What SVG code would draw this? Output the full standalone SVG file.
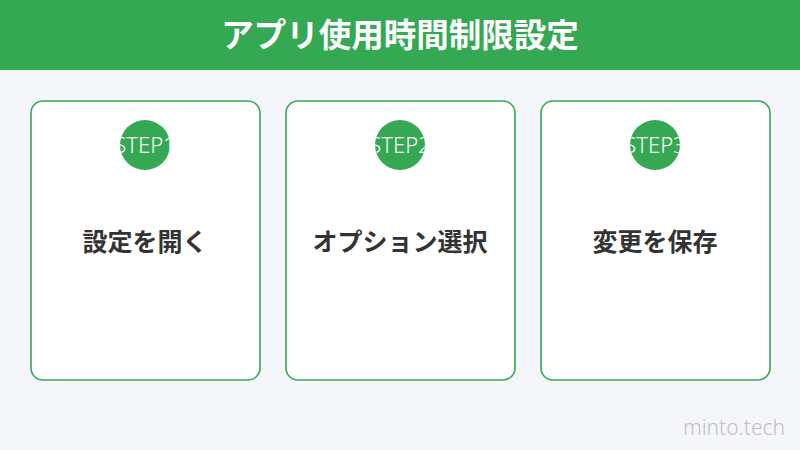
<svg xmlns="http://www.w3.org/2000/svg" width="800" height="450" viewBox="0 0 800 450">
<defs>
<style>
.card{fill:#ffffff;stroke:#34a853;stroke-width:1.6}
.badge{fill:#34a853}
.step{font-family:"Noto Sans","Liberation Sans",sans-serif;font-size:22px;font-weight:300;fill:#ffffff;text-anchor:middle}
.label{font-family:"Noto Sans CJK JP","Noto Sans",sans-serif;font-size:25px;font-weight:700;fill:#333333;text-anchor:middle}
</style>
<clipPath id="c1"><circle cx="145" cy="145" r="25"/></clipPath>
<clipPath id="c2"><circle cx="400" cy="145" r="25"/></clipPath>
<clipPath id="c3"><circle cx="655" cy="145" r="25"/></clipPath>
</defs>
<rect width="800" height="450" fill="#f5f6fa"/>
<g id="header">
<rect x="0" y="0" width="800" height="70" fill="#34a853"/>
<text x="400" y="47" font-family="'Noto Sans CJK JP','Noto Sans',sans-serif" font-size="32.5" font-weight="700" fill="#ffffff" text-anchor="middle">アプリ使用時間制限設定</text>
</g>
<g id="step1">
<rect class="card" x="31" y="101" width="229" height="279" rx="12"/>
<circle class="badge" cx="145" cy="145" r="25"/>
<text class="step" x="145" y="153" clip-path="url(#c1)">STEP1</text>
<text class="label" x="145" y="251">設定を開く</text>
</g>
<g id="step2">
<rect class="card" x="286" y="101" width="229" height="279" rx="12"/>
<circle class="badge" cx="400" cy="145" r="25"/>
<text class="step" x="400" y="153" clip-path="url(#c2)">STEP2</text>
<text class="label" x="400" y="251">オプション選択</text>
</g>
<g id="step3">
<rect class="card" x="541" y="101" width="229" height="279" rx="12"/>
<circle class="badge" cx="655" cy="145" r="25"/>
<text class="step" x="655" y="153" clip-path="url(#c3)">STEP3</text>
<text class="label" x="655" y="251">変更を保存</text>
</g>
<g id="connectors"></g>
<text x="785" y="435" font-family="'Noto Sans','Liberation Sans',sans-serif" font-size="21" font-weight="300" fill="#c0c0c0" text-anchor="end">minto.tech</text>
</svg>
